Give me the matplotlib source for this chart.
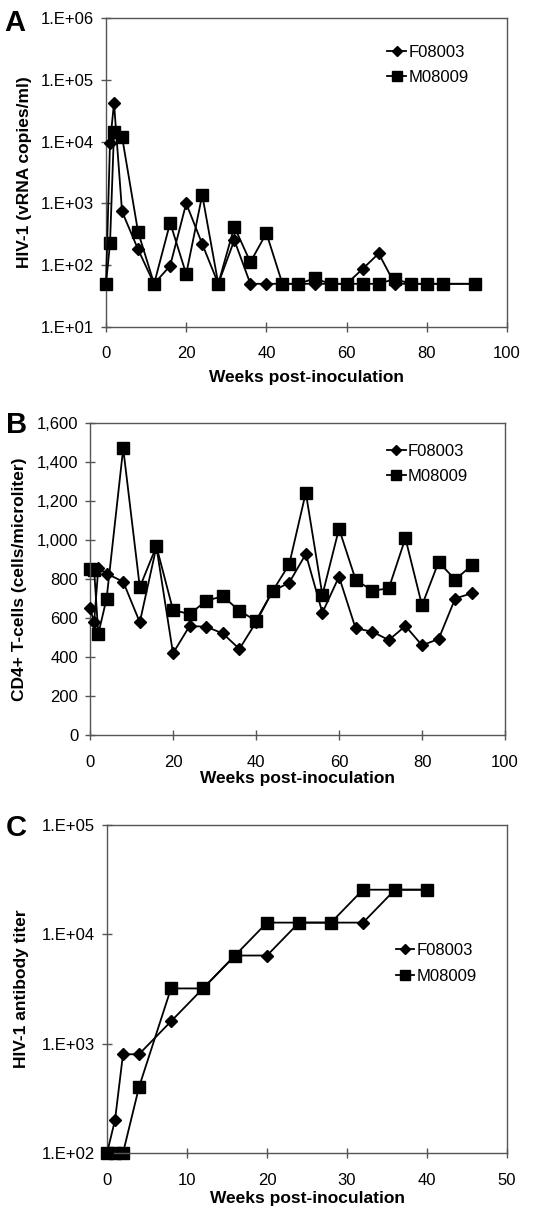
import numpy as np
import matplotlib
matplotlib.use("Agg")
import matplotlib.pyplot as plt
from matplotlib.ticker import FuncFormatter, FixedLocator, NullLocator

plt.rc("font", family="Liberation Sans", size=12)

# Panel A: plasma viral load
weeks_a = [0, 1, 2, 4, 8, 12, 16, 20, 24, 28, 32, 36, 40, 44, 48, 52, 56, 60,
           64, 68, 72, 76, 80, 84, 92]
vl_f08003 = [50, 9500, 42000, 740, 180, 50, 98, 1000, 220, 50, 255, 50, 50, 50,
             50, 50, 50, 50, 87, 155, 50, 50, 50, 50, 50]
vl_m08009 = [50, 225, 14500, 12000, 345, 50, 485, 72, 1370, 50, 420, 112, 330,
             50, 50, 61, 50, 50, 50, 50, 60, 50, 50, 50, 50]

# Panel B: CD4+ T-cell counts
weeks_b = [0, 1, 2, 4, 8, 12, 16, 20, 24, 28, 32, 36, 40, 44, 48, 52, 56, 60,
           64, 68, 72, 76, 80, 84, 88, 92]
cd4_f08003 = [650, 578, 856, 828, 786, 578, 965, 419, 559, 555, 521, 441, 578,
              738, 781, 928, 627, 812, 547, 530, 487, 559, 460, 492, 700, 727]
cd4_m08009 = [850, 845, 518, 700, 1470, 758, 968, 641, 620, 688, 712, 637, 586,
              738, 875, 1243, 718, 1058, 797, 740, 752, 1009, 665, 887, 797, 870]

# Panel C: antibody titer
weeks_c = [0, 1, 2, 4, 8, 12, 16, 20, 24, 28, 32, 36, 40]
ab_f08003 = [100, 200, 800, 800, 1600, 3200, 6400, 6400, 12800, 12800, 12800,
             25600, 25600]
ab_m08009 = [100, 100, 100, 400, 3200, 3200, 6400, 12800, 12800, 12800, 25600,
             25600, 25600]

W, H = 555, 1214
fig = plt.figure(figsize=(W / 100, H / 100), dpi=100)


def px_axes(x0, y0, x1, y1):
    ax = fig.add_axes([x0 / W, 1 - y1 / H, (x1 - x0) / W, (y1 - y0) / H])
    ax._px = (x0, y0, x1, y1)
    return ax


def sci(v, pos):
    return "1.E+%02d" % int(round(np.log10(v)))


def style(ax, xpad, ypad, ylab_x, xlab_y):
    for s in ax.spines.values():
        s.set_color("#555555")
        s.set_linewidth(1.0)
    ax.tick_params(direction="inout", length=7, width=1.0, color="#555555",
                   labelsize=12)
    ax.tick_params(axis="x", pad=xpad)
    ax.tick_params(axis="y", pad=ypad)
    x0, y0, x1, y1 = ax._px
    # place axis labels by pixel position of their centre
    ax.yaxis.label.set_va("center")
    ax.yaxis.set_label_coords((ylab_x - x0) / (x1 - x0), 0.5)
    ax.xaxis.label.set_va("center")
    ax.xaxis.set_label_coords(0.5, (y1 - xlab_y) / (y1 - y0))
    for ln in ax.lines:
        ln.set_clip_on(False)


def draw(ax, x, a, b, legend_loc):
    ax.plot(x, a, color="black", lw=1.3, marker="D", ms=6, mfc="black",
            mec="black", label="F08003", zorder=3)
    ax.plot(x, b, color="black", lw=1.3, marker="s", ms=8.5, mfc="black",
            mec="black", label="M08009", zorder=2)
    ax.legend(loc="upper left", bbox_to_anchor=legend_loc, frameon=False,
              handlelength=1.1, handletextpad=0.15, labelspacing=0.62,
              borderaxespad=0, fontsize=12, markerscale=0.85)


lab = dict(fontweight="bold", fontsize=12.5)

# ---- A ----
axA = px_axes(106, 18, 507, 327)
draw(axA, weeks_a, vl_f08003, vl_m08009, (0.685, 0.935))
axA.set_yscale("log")
axA.set_ylim(10, 1e6)
axA.set_xlim(0, 100)
axA.set_xticks(range(0, 101, 20))
axA.yaxis.set_major_locator(FixedLocator([1e1, 1e2, 1e3, 1e4, 1e5, 1e6]))
axA.yaxis.set_minor_locator(NullLocator())
axA.yaxis.set_major_formatter(FuncFormatter(sci))
axA.set_ylabel("HIV-1 (vRNA copies/ml)", **lab)
axA.set_xlabel("Weeks post-inoculation", **lab)
style(axA, 10, 5, 25, 378)
fig.text(4 / W, 1 - 23 / H, "A", fontsize=21, fontweight="bold", va="center")

# ---- B ----
axB = px_axes(90, 423, 505, 735)
draw(axB, weeks_b, cd4_f08003, cd4_m08009, (0.70, 0.955))
axB.set_ylim(0, 1600)
axB.set_xlim(0, 100)
axB.set_xticks(range(0, 101, 20))
axB.set_yticks(range(0, 1601, 200))
axB.yaxis.set_major_formatter(FuncFormatter(lambda v, p: f"{int(v):,}"))
axB.set_ylabel("CD4+ T-cells (cells/microliter)", **lab)
axB.set_xlabel("Weeks post-inoculation", **lab)
style(axB, 11, 5, 20, 779)
fig.text(6 / W, 1 - 425 / H, "B", fontsize=21, fontweight="bold", va="center")

# ---- C ----
axC = px_axes(107, 825, 507, 1153)
draw(axC, weeks_c, ab_f08003, ab_m08009, (0.705, 0.66))
axC.set_yscale("log")
axC.set_ylim(100, 1e5)
axC.set_xlim(0, 50)
axC.set_xticks(range(0, 51, 10))
axC.yaxis.set_major_locator(FixedLocator([1e2, 1e3, 1e4, 1e5]))
axC.yaxis.set_minor_locator(NullLocator())
axC.yaxis.set_major_formatter(FuncFormatter(sci))
axC.set_ylabel("HIV-1 antibody titer", **lab)
axC.set_xlabel("Weeks post-inoculation", **lab)
style(axC, 11, 5, 22, 1199)
fig.text(6 / W, 1 - 828 / H, "C", fontsize=21, fontweight="bold", va="center")

fig.savefig("out.png", dpi=100)
